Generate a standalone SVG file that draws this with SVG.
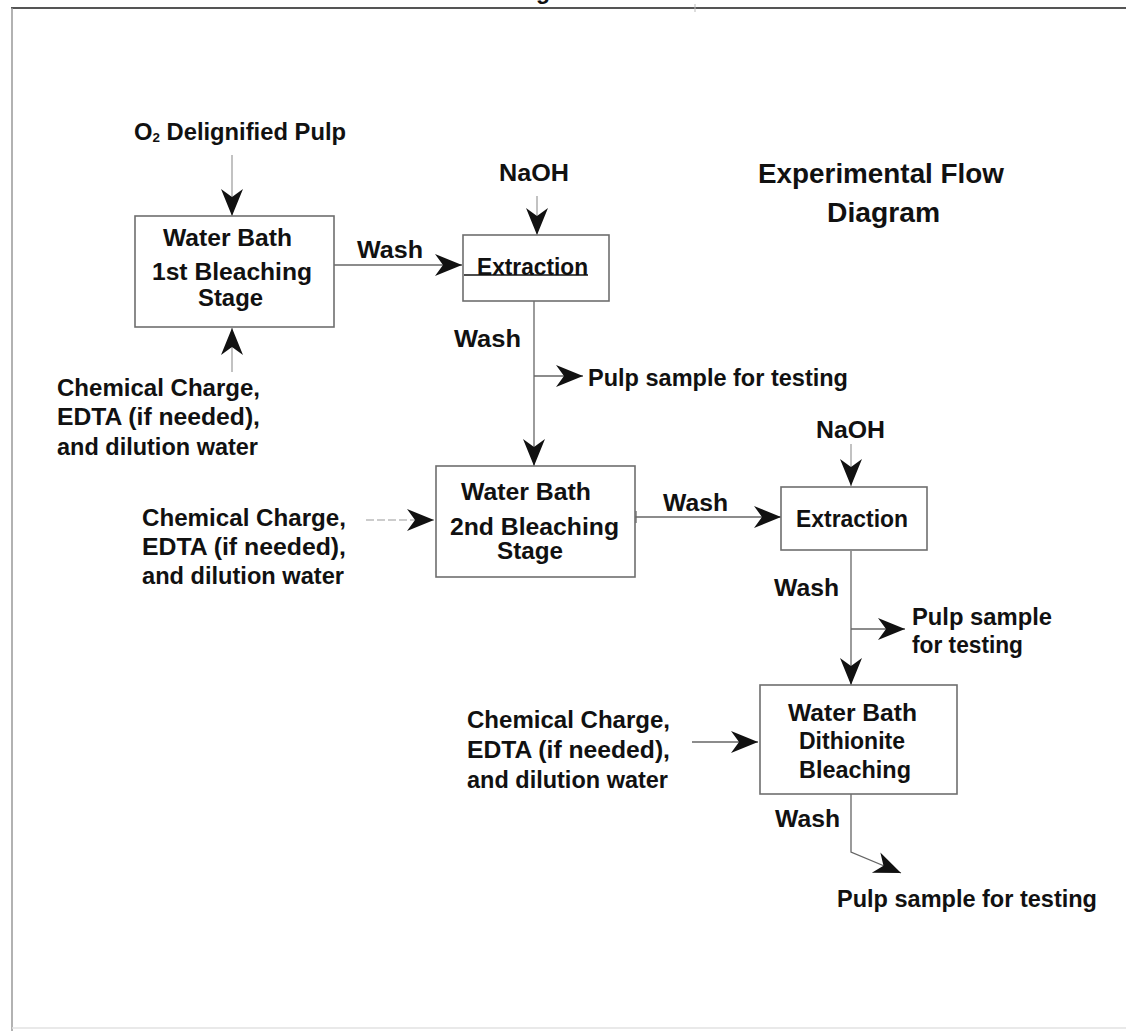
<svg xmlns="http://www.w3.org/2000/svg" width="1126" height="1031" viewBox="0 0 1126 1031">
<style>
text{font-family:"Liberation Sans",Arial,sans-serif;font-weight:bold;font-size:23px;fill:#111}
.t{font-size:28px}
.box{fill:#fff;stroke:#6e6e6e;stroke-width:1.6}
.ln{fill:none;stroke:#666;stroke-width:1.3}
.lt{fill:none;stroke:#999;stroke-width:1.2}
</style>
<defs>
<marker id="ah" markerUnits="userSpaceOnUse" markerWidth="30" markerHeight="24" refX="27" refY="11" orient="auto">
<path d="M0,0 L27,11 L0,22 L8,11 Z" fill="#111"/>
</marker>
</defs>
<rect x="0" y="0" width="1126" height="1031" fill="#fff"/>
<g id="frame">
<line x1="11" y1="8" x2="1126" y2="8" stroke="#555" stroke-width="2"/>
<line x1="12" y1="8" x2="12" y2="1031" stroke="#999" stroke-width="1.5"/>
<line x1="12" y1="1028" x2="1126" y2="1028" stroke="#e2e2e2" stroke-width="1.5"/>
<line x1="695" y1="4" x2="695" y2="12" stroke="#bbb" stroke-width="1"/>
<text x="536" y="-1">g</text>
</g>
<g id="title">
<text class="t" x="758" y="183" textLength="246" lengthAdjust="spacingAndGlyphs">Experimental Flow</text>
<text class="t" x="827" y="222" textLength="113" lengthAdjust="spacingAndGlyphs">Diagram</text>
</g>
<g id="connectors">
<line class="lt" x1="232" y1="155" x2="232" y2="216" marker-end="url(#ah)"/>
<line class="lt" x1="232" y1="372" x2="232" y2="328" marker-end="url(#ah)"/>
<line class="ln" x1="334" y1="265" x2="462" y2="265" marker-end="url(#ah)"/>
<line class="lt" x1="537" y1="196" x2="537" y2="235" marker-end="url(#ah)"/>
<line class="ln" x1="534" y1="301" x2="534" y2="466" marker-end="url(#ah)"/>
<line class="ln" x1="534" y1="376" x2="583" y2="376" marker-end="url(#ah)"/>
<line class="lt" x1="366" y1="520" x2="434" y2="520" marker-end="url(#ah)" stroke-dasharray="8 3"/>
<line class="ln" x1="635" y1="517" x2="781" y2="517" marker-end="url(#ah)"/>
<line class="ln" x1="636" y1="511" x2="636" y2="523"/>
<line class="lt" x1="851" y1="444" x2="851" y2="486" marker-end="url(#ah)"/>
<line class="ln" x1="851" y1="551" x2="851" y2="685" marker-end="url(#ah)"/>
<line class="ln" x1="851" y1="629" x2="905" y2="629" marker-end="url(#ah)"/>
<line class="ln" x1="692" y1="742" x2="758" y2="742" marker-end="url(#ah)"/>
<polyline class="ln" points="851,794 851,852 901,873" marker-end="url(#ah)"/>
</g>
<g id="n_feed1">
<text x="134" y="140" textLength="212" lengthAdjust="spacingAndGlyphs">O<tspan font-size="13" dy="2">2</tspan><tspan dy="-2"> Delignified Pulp</tspan></text>
</g>
<g id="n_bath1">
<rect class="box" x="135" y="216" width="199" height="111"/>
<text x="163" y="246" textLength="129" lengthAdjust="spacingAndGlyphs">Water Bath</text>
<text x="152" y="280" textLength="160" lengthAdjust="spacingAndGlyphs">1st Bleaching</text>
<text x="198" y="306" textLength="65" lengthAdjust="spacingAndGlyphs">Stage</text>
</g>
<g id="n_wash1"><text x="357" y="258" textLength="66" lengthAdjust="spacingAndGlyphs">Wash</text></g>
<g id="n_naoh1"><text x="499" y="181" textLength="70" lengthAdjust="spacingAndGlyphs">NaOH</text></g>
<g id="n_ext1">
<rect class="box" x="463" y="235" width="146" height="66"/>
<text x="477" y="275" textLength="111" lengthAdjust="spacingAndGlyphs">Extraction</text>
<line x1="464" y1="275" x2="588" y2="275" stroke="#111" stroke-width="1.6"/>
</g>
<g id="n_chem1">
<text x="57" y="396" textLength="203" lengthAdjust="spacingAndGlyphs">Chemical Charge,</text>
<text x="57" y="425" textLength="203" lengthAdjust="spacingAndGlyphs">EDTA (if needed),</text>
<text x="57" y="455" textLength="201" lengthAdjust="spacingAndGlyphs">and dilution water</text>
</g>
<g id="n_wash2"><text x="454" y="347" textLength="67" lengthAdjust="spacingAndGlyphs">Wash</text></g>
<g id="n_sample1"><text x="588" y="386" textLength="260" lengthAdjust="spacingAndGlyphs">Pulp sample for testing</text></g>
<g id="n_bath2">
<rect class="box" x="436" y="466" width="199" height="111"/>
<text x="461" y="500" textLength="130" lengthAdjust="spacingAndGlyphs">Water Bath</text>
<text x="450" y="535" textLength="169" lengthAdjust="spacingAndGlyphs">2nd Bleaching</text>
<text x="497" y="559" textLength="66" lengthAdjust="spacingAndGlyphs">Stage</text>
</g>
<g id="n_chem2">
<text x="142" y="526" textLength="204" lengthAdjust="spacingAndGlyphs">Chemical Charge,</text>
<text x="142" y="555" textLength="204" lengthAdjust="spacingAndGlyphs">EDTA (if needed),</text>
<text x="142" y="584" textLength="202" lengthAdjust="spacingAndGlyphs">and dilution water</text>
</g>
<g id="n_wash3"><text x="663" y="511" textLength="65" lengthAdjust="spacingAndGlyphs">Wash</text></g>
<g id="n_naoh2"><text x="816" y="438" textLength="69" lengthAdjust="spacingAndGlyphs">NaOH</text></g>
<g id="n_ext2">
<rect class="box" x="781" y="487" width="146" height="63"/>
<text x="796" y="527" textLength="112" lengthAdjust="spacingAndGlyphs">Extraction</text>
</g>
<g id="n_wash4"><text x="774" y="596" textLength="65" lengthAdjust="spacingAndGlyphs">Wash</text></g>
<g id="n_sample2">
<text x="912" y="625" textLength="140" lengthAdjust="spacingAndGlyphs">Pulp sample</text>
<text x="912" y="653" textLength="111" lengthAdjust="spacingAndGlyphs">for testing</text>
</g>
<g id="n_bath3">
<rect class="box" x="760" y="685" width="197" height="109"/>
<text x="788" y="721" textLength="129" lengthAdjust="spacingAndGlyphs">Water Bath</text>
<text x="799" y="749" textLength="106" lengthAdjust="spacingAndGlyphs">Dithionite</text>
<text x="799" y="778" textLength="112" lengthAdjust="spacingAndGlyphs">Bleaching</text>
</g>
<g id="n_chem3">
<text x="467" y="728" textLength="203" lengthAdjust="spacingAndGlyphs">Chemical Charge,</text>
<text x="467" y="758" textLength="203" lengthAdjust="spacingAndGlyphs">EDTA (if needed),</text>
<text x="467" y="788" textLength="201" lengthAdjust="spacingAndGlyphs">and dilution water</text>
</g>
<g id="n_wash5"><text x="775" y="827" textLength="65" lengthAdjust="spacingAndGlyphs">Wash</text></g>
<g id="n_sample3"><text x="837" y="907" textLength="260" lengthAdjust="spacingAndGlyphs">Pulp sample for testing</text></g>
</svg>
